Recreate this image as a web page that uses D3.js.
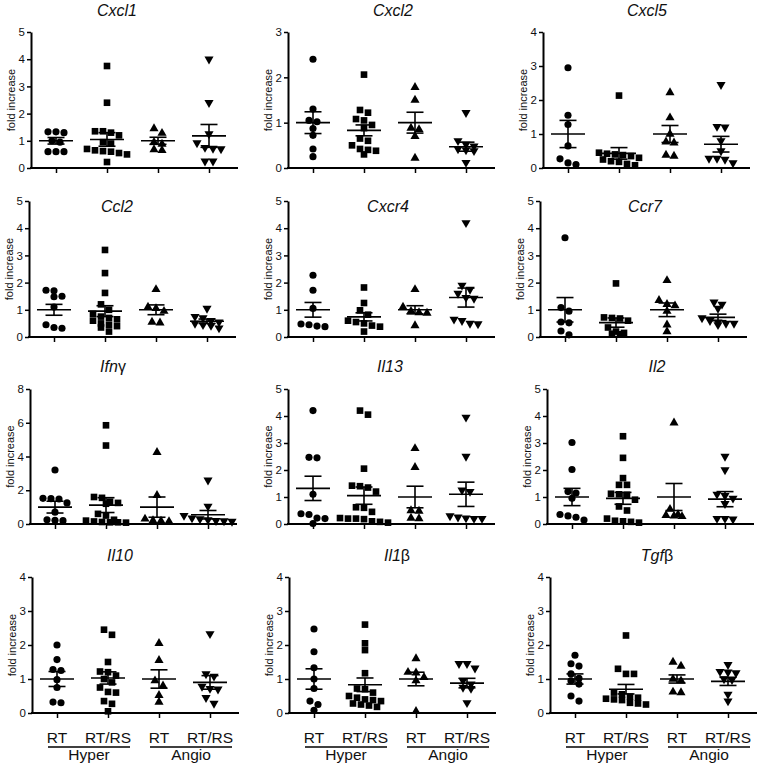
<!DOCTYPE html>
<html>
<head>
<meta charset="utf-8">
<title>Fold increase scatter panels</title>
<style>
  body { margin: 0; background: #fff; }
  svg text { font-family: "Liberation Sans", Arial, sans-serif; fill: #111; }
</style>
</head>
<body>
<svg id="chart" width="757" height="767"></svg>
<script src="https://d3js.org/d3.v7.min.js"></script>
<script>
// groups along each x axis
const groups = ["Hyper RT", "Hyper RT/RS", "Angio RT", "Angio RT/RS"];
const tickLabels = ["RT", "RT/RS", "RT", "RT/RS"];
const cohorts = ["Hyper", "Angio"];

// panel titles: italic part + upright greek part
const titleMain = ["Cxcl1", "Cxcl2", "Cxcl5", "Ccl2", "Cxcr4", "Ccr7", "Ifn", "Il13", "Il2", "Il10", "Il1", "Tgf"];
const titleGreek = ["", "", "", "", "", "", "γ", "", "", "", "β", "β"];
const yMax = [5, 3, 4, 5, 5, 5, 8, 5, 5, 4, 4, 4];
const yStep = [1, 1, 1, 1, 1, 1, 2, 1, 1, 1, 1, 1];

// individual values per group
const cxcl1 = [
  [1.33, 1.3, 1.33, 1.0, 0.95, 0.6, 0.6, 0.6],
  [3.75, 2.4, 1.35, 1.35, 1.3, 1.2, 0.95, 0.9, 0.7, 0.65, 0.62, 0.6, 0.55, 0.5, 0.22],
  [1.45, 1.28, 0.95, 0.88, 0.68, 0.65],
  [4.0, 2.4, 1.25, 0.92, 0.75, 0.72, 0.7, 0.25, 0.25]
];
const cxcl2 = [
  [2.4, 1.3, 1.05, 1.02, 0.87, 0.72, 0.42, 0.25],
  [2.06, 1.28, 1.22, 1.08, 1.05, 0.95, 0.88, 0.65, 0.6, 0.5, 0.42, 0.4, 0.38, 0.3],
  [1.78, 1.5, 0.88, 0.85, 0.7, 0.22],
  [1.22, 0.6, 0.52, 0.48, 0.42, 0.4, 0.38, 0.12]
];
const cxcl5 = [
  [2.95, 1.55, 1.28, 0.65, 0.27, 0.15, 0.1],
  [2.13, 0.45, 0.42, 0.4, 0.38, 0.35, 0.3, 0.25, 0.2, 0.18, 0.12, 0.08],
  [2.22, 1.48, 1.0, 0.77, 0.74, 0.38, 0.35],
  [2.45, 1.22, 1.2, 0.8, 0.5, 0.28, 0.28, 0.25, 0.15]
];
const ccl2 = [
  [1.72, 1.7, 1.5, 1.48, 1.1, 0.45, 0.35, 0.32],
  [3.2, 2.35, 1.62, 1.2, 1.0, 0.85, 0.75, 0.7, 0.65, 0.6, 0.5, 0.45, 0.4, 0.35, 0.2],
  [1.75, 1.1, 1.05, 0.95, 0.55, 0.52],
  [1.05, 0.75, 0.7, 0.6, 0.55, 0.5, 0.45, 0.42, 0.33]
];
const cxcr4 = [
  [2.27, 1.72, 1.05, 0.48, 0.45, 0.4, 0.38],
  [1.82, 1.25, 0.98, 0.82, 0.6, 0.55, 0.5, 0.42, 0.38, 0.2],
  [1.75, 1.1, 0.95, 0.9, 0.88, 0.42],
  [4.2, 1.9, 1.75, 1.6, 1.45, 1.42, 0.65, 0.6, 0.5, 0.48]
];
const ccr7 = [
  [3.65, 1.08, 0.95, 0.55, 0.52, 0.22, 0.08],
  [1.97, 0.72, 0.7, 0.68, 0.6, 0.35, 0.2, 0.15, 0.12, 0.1],
  [2.08, 1.35, 1.2, 1.15, 0.95, 0.45, 0.2],
  [1.28, 1.2, 1.05, 0.7, 0.6, 0.55, 0.5, 0.5, 0.45]
];
const ifng = [
  [3.2, 1.52, 1.5, 1.48, 1.25, 0.7, 0.25, 0.22, 0.2],
  [5.85, 4.65, 1.6, 1.55, 1.32, 1.25, 1.2, 0.6, 0.5, 0.25, 0.2, 0.15, 0.12, 0.1, 0.1, 0.08],
  [4.25, 1.7, 0.3, 0.2, 0.18, 0.15],
  [2.6, 1.05, 0.5, 0.35, 0.3, 0.25, 0.2, 0.18, 0.15]
];
const il13 = [
  [4.2, 2.47, 2.45, 1.1, 0.38, 0.35, 0.22, 0.2, 0.02],
  [4.2, 4.05, 2.05, 1.42, 1.4, 1.35, 1.2, 0.62, 0.6, 0.45, 0.22, 0.2, 0.2, 0.18, 0.1, 0.08, 0.05],
  [2.8, 2.1, 0.5, 0.48, 0.22, 0.2],
  [3.95, 2.5, 1.25, 1.2, 0.3, 0.25, 0.22, 0.2, 0.2]
];
const il2 = [
  [3.02, 2.02, 1.2, 1.15, 0.95, 0.35, 0.3, 0.25, 0.15],
  [3.25, 2.45, 1.7, 1.45, 1.45, 1.12, 1.1, 1.08, 0.9, 0.65, 0.5, 0.2, 0.12, 0.1, 0.08, 0.05],
  [3.75, 0.55, 0.35, 0.32, 0.3, 0.28],
  [2.5, 2.0, 1.1, 1.05, 0.95, 0.75, 0.2, 0.2, 0.18]
];
const il10 = [
  [2.0, 1.57, 1.28, 1.25, 0.98, 0.75, 0.32, 0.3],
  [2.45, 2.3, 1.5, 1.22, 1.2, 1.1, 1.0, 0.9, 0.75, 0.62, 0.6, 0.35, 0.27, 0.05],
  [2.05, 1.55, 0.95, 0.8, 0.52, 0.32],
  [2.33, 1.15, 1.08, 0.78, 0.72, 0.7, 0.45, 0.28]
];
const il1b = [
  [2.47, 1.8, 1.33, 1.0, 0.72, 0.35, 0.25, 0.08],
  [2.6, 2.05, 1.85, 1.17, 0.72, 0.7, 0.6, 0.5, 0.45, 0.4, 0.38, 0.35, 0.28, 0.25, 0.22, 0.18],
  [1.6, 1.2, 1.18, 1.05, 0.95, 0.05],
  [1.45, 1.45, 1.32, 0.95, 0.85, 0.75, 0.72, 0.3]
];
const tgfb = [
  [1.7, 1.45, 1.38, 1.15, 1.02, 0.95, 0.85, 0.5, 0.35],
  [2.28, 1.3, 1.15, 1.15, 0.6, 0.55, 0.48, 0.45, 0.42, 0.4, 0.38, 0.3, 0.28, 0.25],
  [1.5, 1.38, 1.0, 0.95, 0.62, 0.6],
  [1.42, 1.22, 1.2, 1.18, 1.0, 0.98, 0.55, 0.35]
];
const panelValues = [cxcl1, cxcl2, cxcl5, ccl2, cxcr4, ccr7, ifng, il13, il2, il10, il1b, tgfb];

// mean and SEM per group
const means = [
  [1.0, 1.05, 1.0, 1.18], [1.0, 0.83, 1.0, 0.47], [1.0, 0.43, 1.0, 0.7],
  [1.0, 0.95, 1.0, 0.58], [1.0, 0.74, 1.0, 1.45], [1.0, 0.53, 1.0, 0.72],
  [1.0, 1.12, 1.0, 0.55], [1.32, 1.05, 1.0, 1.1], [1.0, 0.95, 1.0, 0.92],
  [1.0, 1.03, 1.0, 0.9], [1.0, 0.83, 1.0, 0.88], [1.0, 0.7, 1.0, 0.93]
];
const sems = [
  [0.12, 0.25, 0.13, 0.42], [0.24, 0.12, 0.23, 0.1], [0.4, 0.17, 0.25, 0.23],
  [0.2, 0.2, 0.18, 0.08], [0.27, 0.15, 0.15, 0.35], [0.45, 0.17, 0.25, 0.12],
  [0.35, 0.44, 0.6, 0.25], [0.45, 0.32, 0.4, 0.45], [0.32, 0.22, 0.5, 0.28],
  [0.22, 0.18, 0.27, 0.2], [0.3, 0.2, 0.2, 0.14], [0.15, 0.14, 0.12, 0.12]
];

// layout
const axisX = [31, 288, 543, 29, 288, 540, 30, 288, 547, 32, 289, 550];
const titleX = [117, 393, 647, 117, 388, 645, 113, 390, 657, 120, 397, 657];
const rowTop = [32, 201, 389, 577];
const rowBottom = [168, 337, 524, 713];
const titleY = [16, 212, 372, 561];

const symbols = [d3.symbolCircle, d3.symbolSquare, d3.symbolTriangle, d3.symbolTriangle];
const symbolSize = [40, 44, 36, 36];

const svg = d3.select("#chart");

function swarm(vals, y, cx) {
  const pts = vals.map(v => ({ v, y: y(v) })).sort((a, b) => a.y - b.y);
  const rows = [];
  pts.forEach(p => {
    const last = rows[rows.length - 1];
    if (last && p.y - last[0].y < 6) last.push(p); else rows.push([p]);
  });
  rows.forEach(r => r.forEach((p, i) => { p.x = cx + (i - (r.length - 1) / 2) * 8; }));
  return pts;
}

panelValues.forEach((vals, k) => {
  const row = Math.floor(k / 3);
  const x0 = axisX[k];
  const top = rowTop[row], bottom = rowBottom[row];

  const y = d3.scaleLinear().domain([0, yMax[k]]).range([bottom, top]);
  const x = d3.scalePoint().domain(groups).range([x0 + 25, x0 + 178]);

  const g = svg.append("g");

  // title
  const t = g.append("text")
    .attr("x", titleX[k]).attr("y", titleY[row])
    .attr("text-anchor", "middle")
    .style("font-size", "16px");
  t.append("tspan").style("font-style", "italic").text(titleMain[k]);
  if (titleGreek[k]) t.append("tspan").text(titleGreek[k]);

  // y axis
  const yAxis = d3.axisLeft(y)
    .tickValues(d3.range(0, yMax[k] + 0.001, yStep[k]))
    .tickFormat(d3.format("d"))
    .tickSize(4).tickSizeOuter(0).tickPadding(2);
  const ya = g.append("g").attr("transform", `translate(${x0},0)`).call(yAxis);
  ya.select(".domain").attr("stroke", "#000").attr("stroke-width", 2);
  ya.selectAll(".tick line").attr("stroke", "#000").attr("stroke-width", 1.5);
  ya.selectAll(".tick text").style("font-size", "11.5px").attr("fill", "#222");

  g.append("text")
    .attr("transform", `translate(${x0 - 16},${(top + bottom) / 2}) rotate(-90)`)
    .attr("text-anchor", "middle")
    .style("font-size", "11px")
    .text("fold increase");

  // x axis
  const xa = g.append("g").attr("transform", `translate(0,${bottom})`)
    .call(d3.axisBottom(x).tickSize(5).tickFormat(""));
  xa.select(".domain").remove();
  xa.selectAll(".tick line").attr("stroke", "#000").attr("stroke-width", 1.5);
  g.append("line")
    .attr("x1", x0 - 1).attr("x2", x0 + 207)
    .attr("y1", bottom).attr("y2", bottom)
    .attr("stroke", "#000").attr("stroke-width", 2);

  // points
  groups.forEach((grp, i) => {
    const pts = swarm(vals[i], y, x(grp));
    g.selectAll(null).data(pts).enter().append("path")
      .attr("d", d3.symbol().type(symbols[i]).size(symbolSize[i]))
      .attr("transform", d => `translate(${d.x},${d.y})` + (i === 3 ? " rotate(180)" : ""))
      .attr("fill", "#000");

    // mean +- SEM
    const cx = x(grp), m = means[k][i], s = sems[k][i];
    const eb = g.append("g").attr("stroke", "#000").attr("stroke-width", 1.6);
    eb.append("line").attr("x1", cx).attr("x2", cx).attr("y1", y(m - s)).attr("y2", y(m + s));
    eb.append("line").attr("x1", cx - 17).attr("x2", cx + 17).attr("y1", y(m)).attr("y2", y(m));
    eb.append("line").attr("x1", cx - 8.5).attr("x2", cx + 8.5).attr("y1", y(m + s)).attr("y2", y(m + s));
    eb.append("line").attr("x1", cx - 8.5).attr("x2", cx + 8.5).attr("y1", y(m - s)).attr("y2", y(m - s));
  });

  // group labels under the bottom row
  if (row === 3) {
    groups.forEach((grp, i) => {
      g.append("text")
        .attr("x", x(grp)).attr("y", bottom + 30)
        .attr("text-anchor", "middle")
        .style("font-size", "15.5px")
        .text(tickLabels[i]);
    });
    cohorts.forEach((c, j) => {
      const a = x(groups[2 * j]) - 9, b = x(groups[2 * j + 1]) + 22;
      g.append("line")
        .attr("x1", a).attr("x2", b)
        .attr("y1", bottom + 34).attr("y2", bottom + 34)
        .attr("stroke", "#000").attr("stroke-width", 1.5);
      g.append("text")
        .attr("x", (a + b) / 2).attr("y", bottom + 47)
        .attr("text-anchor", "middle")
        .style("font-size", "15.5px")
        .text(c);
    });
  }
});
</script>
</body>
</html>
